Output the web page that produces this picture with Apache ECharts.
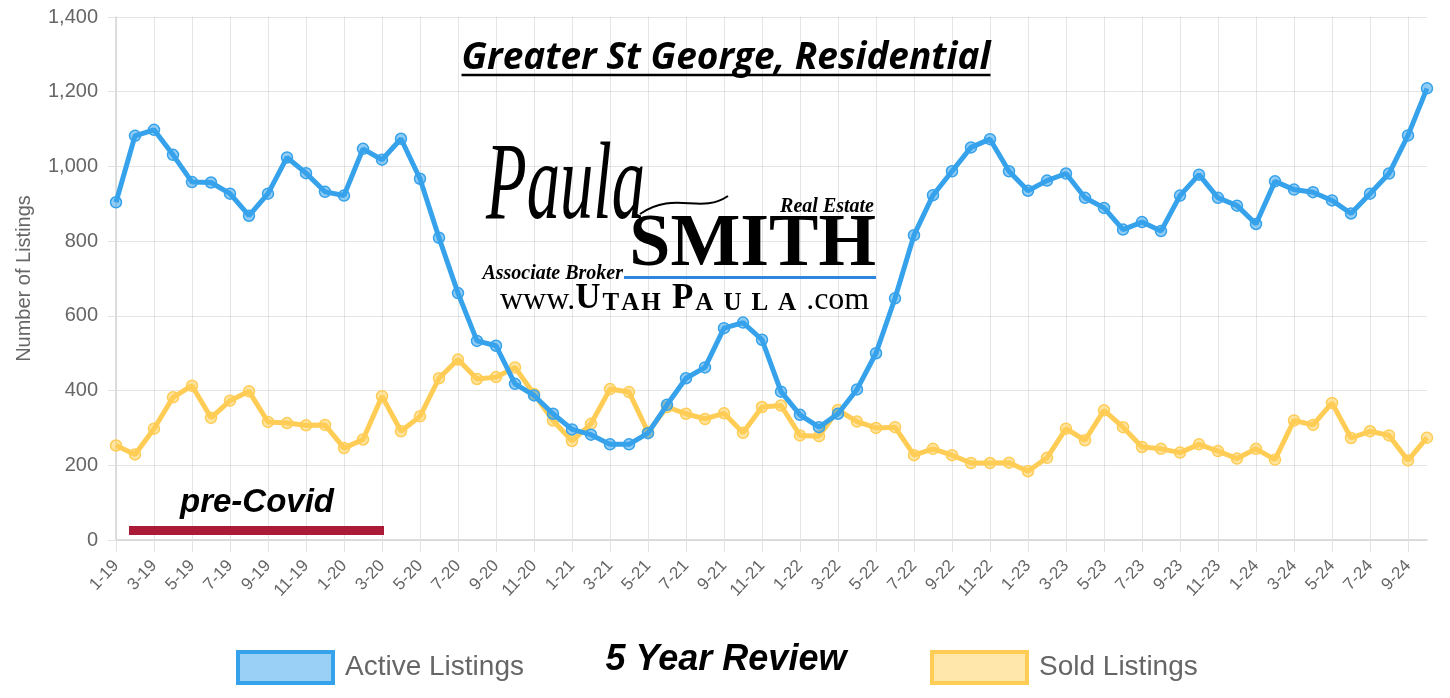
<!DOCTYPE html>
<html>
<head>
<meta charset="utf-8">
<script src="https://cdn.jsdelivr.net/npm/echarts@6/dist/echarts.min.js"></script>
<style>
  html, body { margin: 0; padding: 0; background: #fff; }
  #chart { width: 1450px; height: 698px; }
</style>
</head>
<body>
<div id="chart"></div>
<script>
// months Jan 2019 .. Oct 2024
const months = [
  '1-19','2-19','3-19','4-19','5-19','6-19','7-19','8-19','9-19','10-19','11-19','12-19',
  '1-20','2-20','3-20','4-20','5-20','6-20','7-20','8-20','9-20','10-20','11-20','12-20',
  '1-21','2-21','3-21','4-21','5-21','6-21','7-21','8-21','9-21','10-21','11-21','12-21',
  '1-22','2-22','3-22','4-22','5-22','6-22','7-22','8-22','9-22','10-22','11-22','12-22',
  '1-23','2-23','3-23','4-23','5-23','6-23','7-23','8-23','9-23','10-23','11-23','12-23',
  '1-24','2-24','3-24','4-24','5-24','6-24','7-24','8-24','9-24','10-24'
]

const activeListings = [
  904, 1082, 1098, 1031, 958, 957, 927, 868, 927, 1024, 982, 932,
  922, 1047, 1018, 1074, 967, 809, 661, 533, 520, 418, 387, 338,
  296, 282, 256, 256, 286, 362, 433, 462, 567, 582, 536, 397,
  335, 302, 338, 403, 500, 647, 816, 923, 987, 1051, 1073, 987,
  935, 962, 981, 916, 889, 831, 851, 827, 922, 978, 916, 895,
  846, 960, 938, 931, 909, 874, 927, 981, 1083, 1209
]

const soldListings = [
  253, 229, 298, 382, 413, 327, 373, 398, 316, 313, 307, 308,
  246, 269, 385, 291, 331, 433, 483, 431, 436, 462, 391, 320,
  265, 311, 404, 396, 289, 356, 338, 324, 339, 287, 356, 360,
  280, 278, 348, 317, 300, 302, 227, 244, 227, 206, 206, 207,
  184, 220, 298, 267, 347, 302, 249, 244, 234, 256, 238, 218,
  244, 215, 320, 308, 367, 273, 291, 280, 213, 274
]

const yTicks = { min: 0, max: 1400, interval: 200 }

const BLUE = '#36A2EB'
const YELLOW = '#FFCD56'
const GRID = 'rgba(0,0,0,0.1)'
const LABEL = '#666'
const SANS = 'Liberation Sans, Arial, sans-serif'
const SERIF = 'Liberation Serif, Times New Roman, serif'

// measure title width for the underline
function textWidth(font, str) {
  const ctx = document.createElement('canvas').getContext('2d')
  ctx.font = font
  return ctx.measureText(str).width
}

const titleText = 'Greater St George, Residential'
const titleFont = 'italic bold 37px "Open Sans"'
const titleW = textWidth(titleFont, titleText)

const chart = echarts.init(document.getElementById('chart'))

chart.setOption({
  animation: false,
  grid: { left: 116, right: 23, top: 17, bottom: 158, containLabel: false, outerBoundsMode: 'none' },
  legend: [
    {
      data: ['Active Listings'], left: 236, top: 650, padding: 0,
      icon: 'rect', itemWidth: 95, itemHeight: 31,
      itemStyle: { color: 'rgba(54,162,235,0.5)', borderColor: BLUE, borderWidth: 4 },
      textStyle: { color: LABEL, fontSize: 28, fontFamily: SANS, padding: [0, 0, 0, 7] }
    },
    {
      data: ['Sold Listings'], left: 930, top: 650, padding: 0,
      icon: 'rect', itemWidth: 95, itemHeight: 31,
      itemStyle: { color: 'rgba(255,205,86,0.5)', borderColor: YELLOW, borderWidth: 4 },
      textStyle: { color: LABEL, fontSize: 28, fontFamily: SANS, padding: [0, 0, 0, 7] }
    }
  ],
  xAxis: {
    type: 'category', data: months, boundaryGap: false,
    axisLine: { lineStyle: { color: '#d4d4d4', width: 1.5 } },
    axisTick: { show: true, interval: 1, length: 12, lineStyle: { color: '#e3e3e3' } },
    axisLabel: { interval: 1, rotate: 47, margin: 23, color: LABEL, fontSize: 17, fontFamily: SANS },
    splitLine: { show: true, interval: 1, lineStyle: { color: GRID } }
  },
  yAxis: {
    type: 'value', min: yTicks.min, max: yTicks.max, interval: yTicks.interval,
    name: 'Number of Listings', nameLocation: 'middle', nameGap: 82,
    nameTextStyle: { color: LABEL, fontSize: 20, fontFamily: SANS },
    axisLine: { show: true, lineStyle: { color: '#d4d4d4', width: 1.5 } },
    axisTick: { show: true, length: 8, lineStyle: { color: '#e3e3e3' } },
    axisLabel: {
      margin: 18, color: LABEL, fontSize: 20, fontFamily: SANS,
      formatter: v => v.toLocaleString('en-US')
    },
    splitLine: { lineStyle: { color: GRID } }
  },
  series: [
    {
      name: 'Sold Listings', type: 'line', data: soldListings, z: 2,
      symbol: 'circle', symbolSize: 11, showAllSymbol: true,
      lineStyle: { color: YELLOW, width: 5 },
      itemStyle: { color: 'rgba(255,205,86,0.55)', borderColor: YELLOW, borderWidth: 1.5 }
    },
    {
      name: 'Active Listings', type: 'line', data: activeListings, z: 3,
      symbol: 'circle', symbolSize: 11, showAllSymbol: true,
      lineStyle: { color: BLUE, width: 5 },
      itemStyle: { color: 'rgba(54,162,235,0.55)', borderColor: BLUE, borderWidth: 1.5 }
    }
  ],
  graphic: [
    // title with underline
    { type: 'text', z: 10, style: { x: 726, y: 58, text: titleText, font: titleFont, fill: '#000', align: 'center', verticalAlign: 'middle' } },
    { type: 'line', z: 10, shape: { x1: 726 - titleW / 2, y1: 75, x2: 726 + titleW / 2, y2: 75 }, style: { stroke: '#000', lineWidth: 2.5 } },

    // logo
    {
      type: 'text', z: 10, x: 486, y: 244, scaleX: 0.9, scaleY: 1.5,
      style: { x: 0, y: 0, text: 'Paula', font: 'italic 74px ' + SERIF, fill: '#000', align: 'left', verticalAlign: 'bottom' }
    },
    { type: 'bezierCurve', z: 10, shape: { x1: 640, y1: 214, cpx1: 675, cpy1: 190, cpx2: 700, cpy2: 215, x2: 728, y2: 196 }, style: { stroke: '#000', lineWidth: 2, fill: null } },
    { type: 'text', z: 10, style: { x: 874, y: 207, text: 'Real Estate', font: 'italic bold 20px ' + SERIF, fill: '#000', align: 'right', verticalAlign: 'middle' } },
    { type: 'text', z: 10, style: { x: 876, y: 246, text: 'SMITH', font: 'bold 74px ' + SERIF, fill: '#000', align: 'right', verticalAlign: 'middle' } },
    { type: 'line', z: 10, shape: { x1: 624, y1: 277.5, x2: 876, y2: 277.5 }, style: { stroke: '#2e86de', lineWidth: 3 } },
    { type: 'text', z: 10, style: { x: 623, y: 274, text: 'Associate Broker', font: 'italic bold 20px ' + SERIF, fill: '#000', align: 'right', verticalAlign: 'middle' } },
    {
      type: 'text', z: 10,
      style: {
        x: 500, y: 299, align: 'left', verticalAlign: 'middle', fill: '#000',
        text: '{w|www.}{b|U}{s|T}{s|A}{s|H}{g| }{b|P}{t|A}{t|U}{t|L}{t|A}{w|.com}',
        rich: {
          w: { fontFamily: SERIF, fontSize: 32, lineHeight: 32, verticalAlign: 'bottom' },
          b: { fontFamily: SERIF, fontSize: 35, fontWeight: 'bold', lineHeight: 35, verticalAlign: 'bottom', padding: [0, 2, 0, 0] },
          s: { fontFamily: SERIF, fontSize: 25, fontWeight: 'bold', lineHeight: 25, verticalAlign: 'bottom', padding: [0, 2, 0, 0] },
          t: { fontFamily: SERIF, fontSize: 25, fontWeight: 'bold', lineHeight: 25, verticalAlign: 'bottom', padding: [0, 10, 0, 0] },
          g: { fontFamily: SERIF, fontSize: 25, lineHeight: 25, verticalAlign: 'bottom', padding: [0, 3, 0, 0] }
        }
      }
    },

    // pre-Covid annotation
    { type: 'text', z: 10, style: { x: 257, y: 503, text: 'pre-Covid', font: 'italic bold 33px ' + SANS, fill: '#000', align: 'center', verticalAlign: 'middle' } },
    { type: 'rect', z: 10, shape: { x: 129, y: 526, width: 255, height: 9 }, style: { fill: '#ab1a36' } },

    // bottom caption
    { type: 'text', z: 10, style: { x: 726, y: 660, text: '5 Year Review', font: 'italic bold 36px ' + SANS, fill: '#000', align: 'center', verticalAlign: 'middle' } }
  ]
})
</script>
</body>
</html>
